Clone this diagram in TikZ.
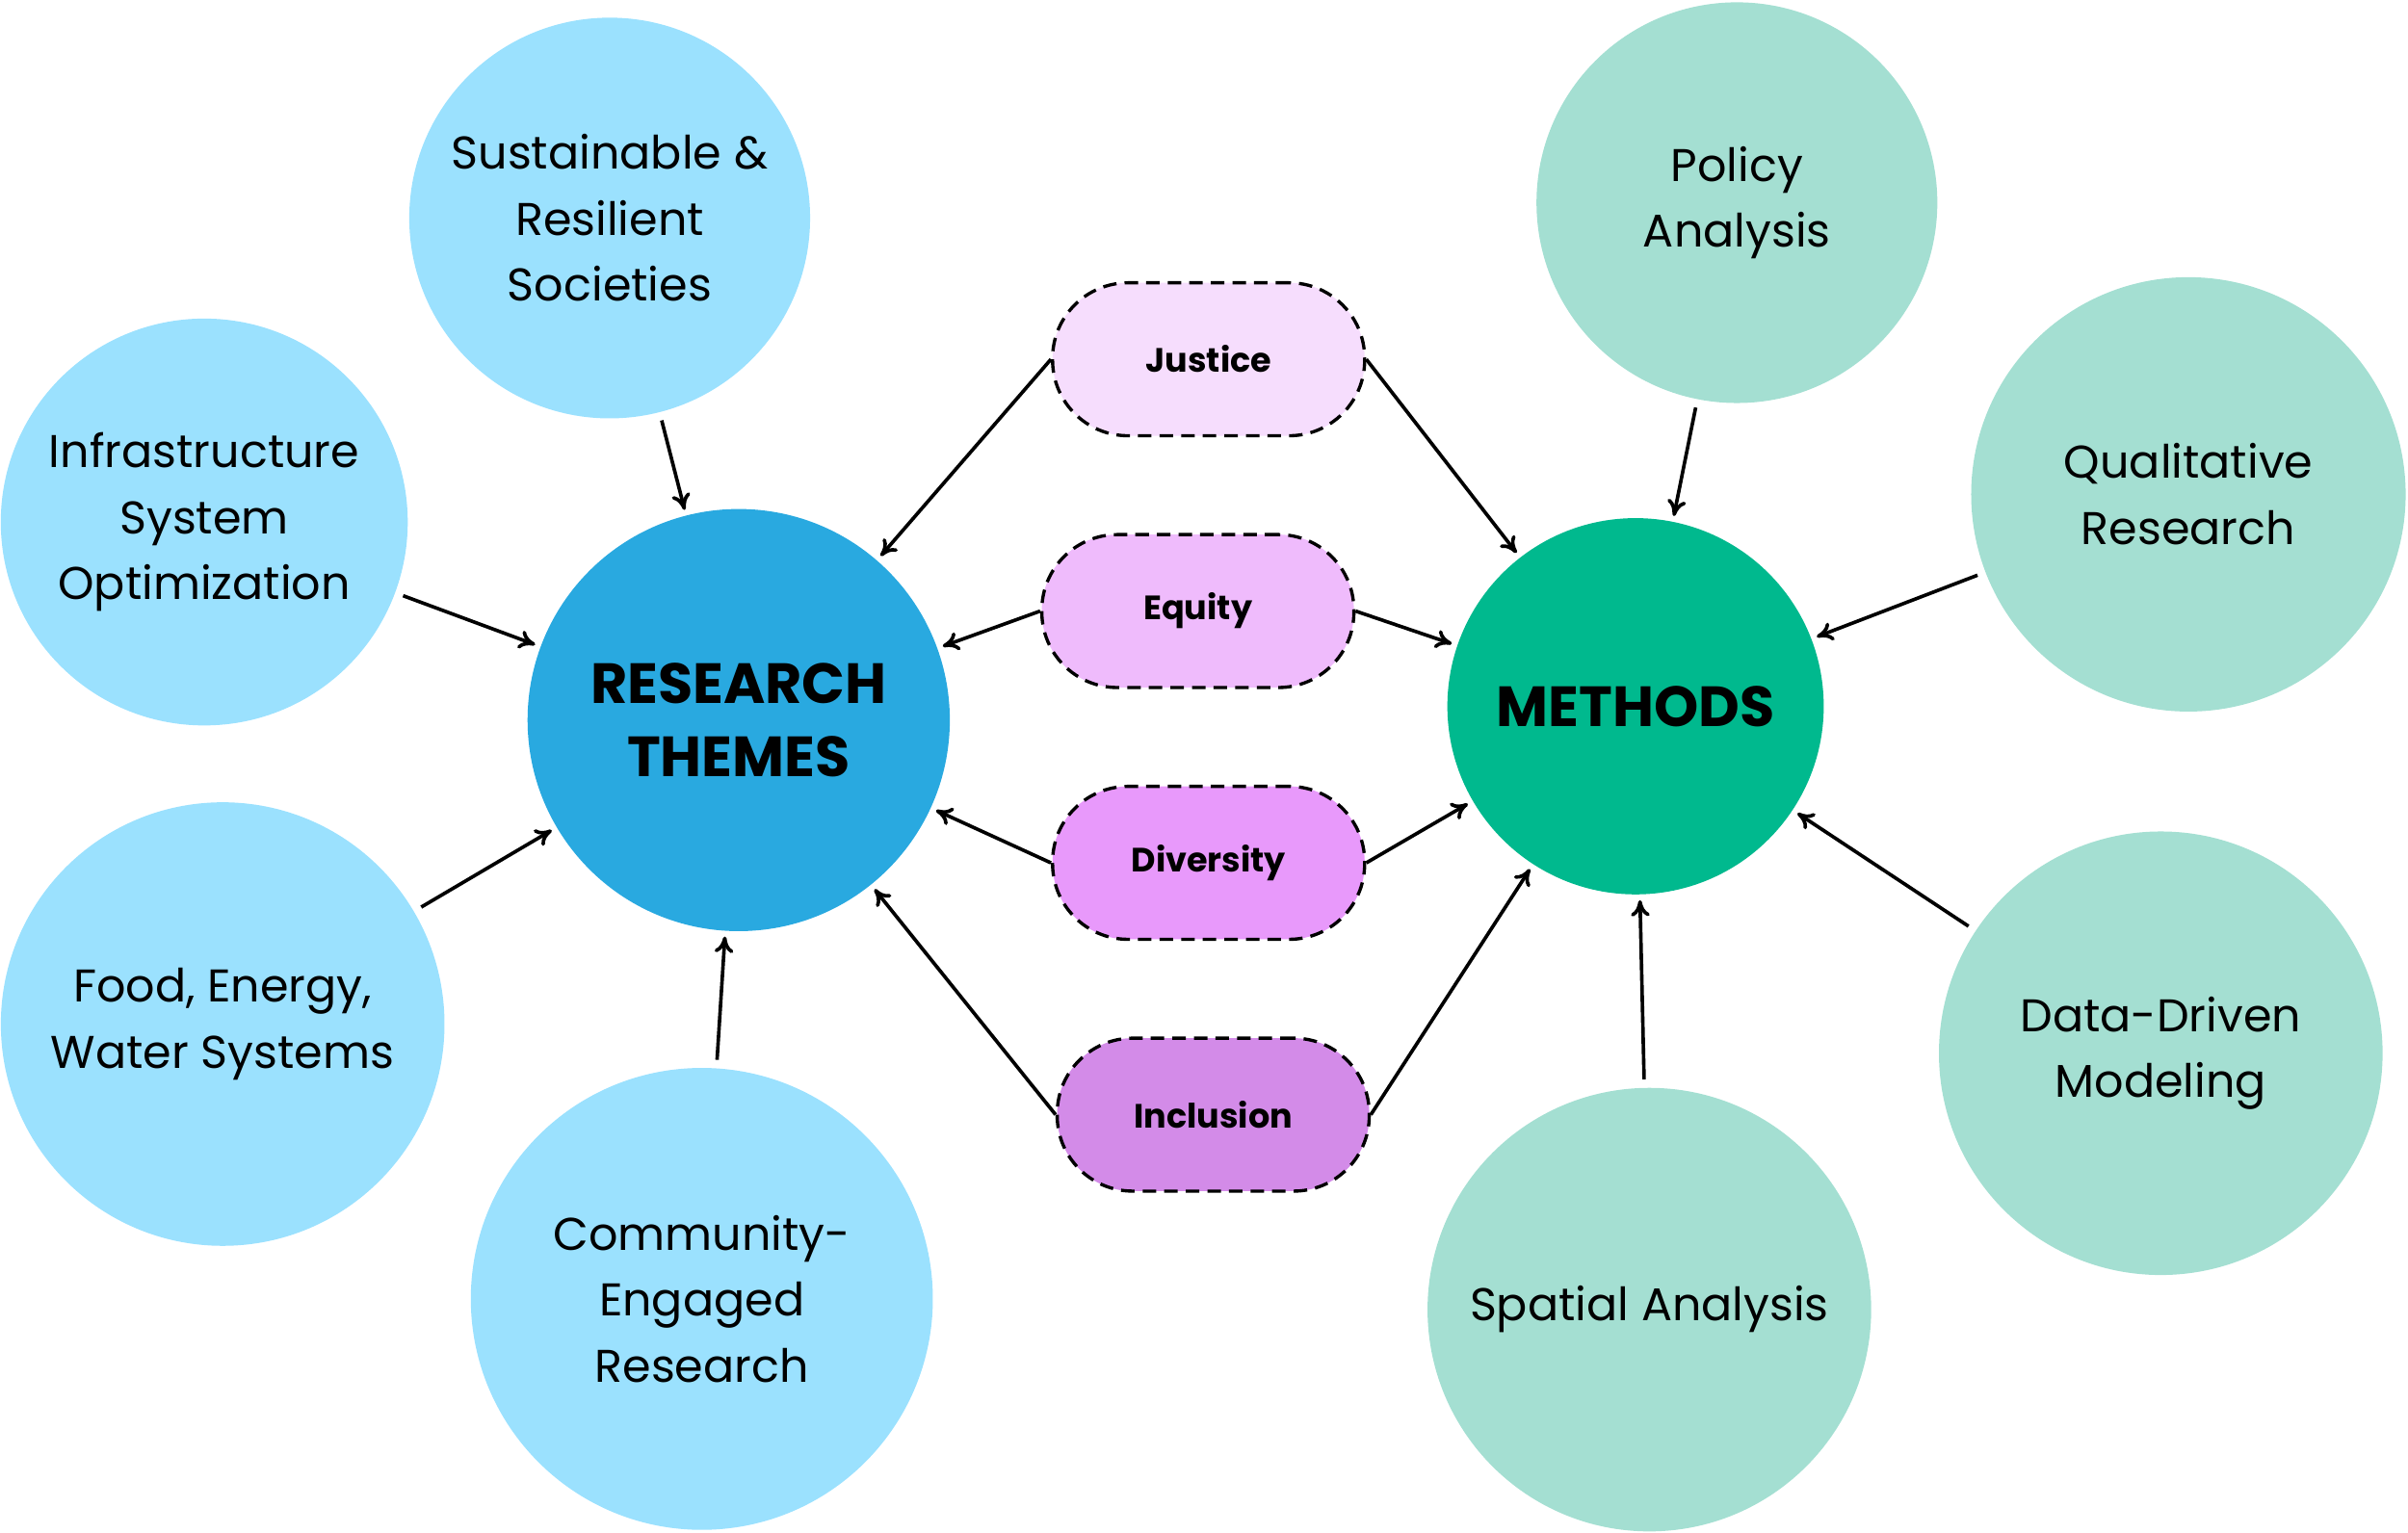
\documentclass[tikz,border=0pt]{standalone}
\usepackage{fontspec}
\setmainfont{Poppins}
\usetikzlibrary{arrows.meta}
\definecolor{lb}{HTML}{9BE1FE}
\definecolor{lg}{HTML}{A4DFD2}
\definecolor{rb}{HTML}{29A9E0}
\definecolor{mg}{HTML}{00B98E}
\definecolor{p1}{HTML}{F6DDFD}
\definecolor{p2}{HTML}{EFBBFC}
\definecolor{p3}{HTML}{E899FB}
\definecolor{p4}{HTML}{D38BE8}
\tikzset{
 circ/.style={circle,inner sep=0pt,align=center,font=\fontsize{17}{24.5}\selectfont,text=black},
 pill/.style={draw=black,dashed,dash pattern=on 5pt off 3pt,line width=1.2pt,rounded corners=28pt,minimum width=204*0.567pt,minimum height=100*0.567pt,font=\bfseries\fontsize{12.5}{15}\selectfont},
 arr/.style={-{To[length=6pt,width=7pt]},line width=1.3pt,shorten >=2pt}
}
\begin{document}
\begin{tikzpicture}[x=0.02cm,y=-0.02cm]
\useasboundingbox (0,0) rectangle (1568,998);
\node[circ,fill=lb,minimum size=262*0.567pt] (s) at (397,142) {Sustainable \&\\Resilient\\Societies};
\node[circ,fill=lb,minimum size=266*0.567pt] (i) at (133,340) {Infrastructure\\System\\Optimization};
\node[circ,fill=lb,minimum size=290*0.567pt] (f) at (145,667) {Food, Energy,\\Water Systems};
\node[circ,fill=lb,minimum size=302*0.567pt] (c) at (457,846) {Community-\\Engaged\\Research};
\node[circ,fill=rb,minimum size=276*0.567pt,font=\bfseries\fontsize{21}{27}\selectfont] (rt) at (481,469) {RESEARCH\\THEMES};
\node[circ,fill=lg,minimum size=262*0.567pt] (p) at (1131,132) {Policy\\Analysis};
\node[circ,fill=lg,minimum size=284*0.567pt] (q) at (1425,322) {Qualitative\\Research};
\node[circ,fill=lg,minimum size=290*0.567pt] (d) at (1407,686) {Data-Driven\\Modeling};
\node[circ,fill=lg,minimum size=290*0.567pt] (sp) at (1074,853) {Spatial Analysis};
\node[circ,fill=mg,minimum size=246*0.567pt,font=\bfseries\fontsize{21}{27}\selectfont] (m) at (1065,460) {METHODS};
\node[pill,fill=p1] (j) at (787,234) {Justice};
\node[pill,fill=p2] (e) at (780,398) {Equity};
\node[pill,fill=p3] (dv) at (787,562) {Diversity};
\node[pill,fill=p4] (in) at (790,726) {Inclusion};
\foreach \a in {s,i,f,c} \draw[arr,shorten <=3pt] (\a) -- (rt);
\foreach \a in {p,q,d,sp} \draw[arr,shorten <=3pt] (\a) -- (m);
\foreach \a in {j,e,dv,in} {\draw[arr] (\a.west) -- (rt); \draw[arr] (\a.east) -- (m);}
\end{tikzpicture}
\end{document}
